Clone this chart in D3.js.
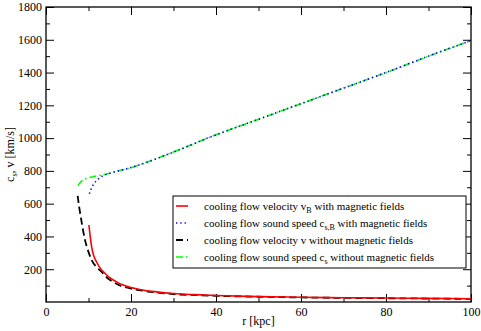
<!DOCTYPE html>
<html>
<head>
<meta charset="utf-8">
<script src="https://cdn.jsdelivr.net/npm/d3@7"></script>
<style>
  body { margin: 0; background: #fff; }
  svg text { font-family: "Liberation Serif", "Times New Roman", Times, "DejaVu Serif", serif; }
</style>
</head>
<body>
<div id="chart"></div>
<script>
'use strict'

// cooling flow velocity v_B with magnetic fields (red, solid)
var r_vB = [10.1, 10.4, 10.75, 11.2, 11.9, 12.8, 13.9, 15.2, 16.6, 18, 20, 23, 26, 30, 35, 40, 50, 60, 70, 80, 90, 100]
var vB   = [470, 400, 335, 285, 244, 205, 174, 145, 123, 105, 88, 72, 62, 52, 45, 40, 33, 29, 26, 24, 22, 20]

// cooling flow sound speed c_s,B with magnetic fields (blue, dotted)
var r_csB = [10.2, 10.6, 11, 11.6, 12.3, 13, 14, 15, 17, 20, 25, 30, 40, 50, 60, 70, 80, 90, 100]
var csB   = [660, 688, 710, 732, 750, 764, 776, 786, 800, 820, 865, 915, 1020, 1115, 1210, 1305, 1400, 1500, 1595]

// cooling flow velocity v without magnetic fields (black, dashed)
var r_v = [7.45, 7.8, 8.2, 8.7, 9.2, 10, 10.75, 12, 13.1, 14.5, 15.8, 17.5, 19.8, 23, 26, 30.7, 35, 40, 50, 60, 70, 80, 90, 100]
var v   = [648, 580, 517, 440, 376, 305, 255, 210, 184, 145, 123, 100, 83, 68, 58, 47, 42, 38, 32, 28, 25, 23, 21, 19]

// cooling flow sound speed c_s without magnetic fields (green, dash-dot)
var r_cs = [7.5, 8, 8.6, 9.3, 10, 11, 12, 13.5, 15, 17, 20, 25, 30, 40, 50, 60, 70, 80, 90, 100]
var cs   = [710, 728, 742, 752, 758, 764, 769, 777, 785, 800, 820, 865, 915, 1020, 1115, 1210, 1305, 1400, 1500, 1595]

var x_ticks = [0, 20, 40, 60, 80, 100]
var y_ticks = [200, 400, 600, 800, 1000, 1200, 1400, 1600, 1800]

var series = [
  { name: 'vB',  r: r_vB,  y: vB,  color: '#ff0000', dash: null,    width: 1.6 },
  { name: 'csB', r: r_csB, y: csB, color: '#0000ff', dash: '1.3,3', width: 1.6 },
  { name: 'v',   r: r_v,   y: v,   color: '#000000', dash: '7,4',   width: 1.8 },
  { name: 'cs',  r: r_cs,  y: cs,  color: '#00ff00', dash: '7,3,1.5,3', width: 1.6 },
]

var FONT = '"Liberation Serif", "Times New Roman", Times, "DejaVu Serif", serif'

var W = 481, H = 331
var margin = { top: 7, right: 10, bottom: 29, left: 46 }
var width = W - margin.left - margin.right
var height = H - margin.top - margin.bottom

var svg = d3.select('#chart').append('svg')
  .attr('width', W).attr('height', H)
  .style('font-family', FONT)

var g = svg.append('g')
  .attr('transform', 'translate(' + margin.left + ',' + margin.top + ')')

var sx = d3.scaleLinear().domain([0, 100]).range([0, width])
var sy = d3.scaleLinear().domain([0, 1800]).range([height, 0])

var fmt = d3.format('d')
var x_minor = d3.range(10, 100, 20)
var y_minor = d3.range(100, 1800, 200)

// ticks pointing inwards, mirrored on all four sides
g.append('g').attr('class', 'x axis')
  .attr('transform', 'translate(0,' + height + ')')
  .call( d3.axisBottom(sx).tickValues(x_ticks).tickFormat(fmt).tickSizeInner(-8).tickSizeOuter(0).tickPadding(5))
g.append('g').attr('class', 'x minor')
  .attr('transform', 'translate(0,' + height + ')')
  .call( d3.axisBottom(sx).tickValues(x_minor).tickSizeInner(-4).tickSizeOuter(0).tickFormat(''))
g.append('g').attr('class', 'x top')
  .call( d3.axisTop(sx).tickValues(x_ticks).tickSizeInner(-8).tickSizeOuter(0).tickFormat(''))
g.append('g').attr('class', 'x topminor')
  .call( d3.axisTop(sx).tickValues(x_minor).tickSizeInner(-4).tickSizeOuter(0).tickFormat(''))

g.append('g').attr('class', 'y axis')
  .call( d3.axisLeft(sy).tickValues(y_ticks).tickFormat(fmt).tickSizeInner(-8).tickSizeOuter(0).tickPadding(4))
g.append('g').attr('class', 'y minor')
  .call( d3.axisLeft(sy).tickValues(y_minor).tickSizeInner(-4).tickSizeOuter(0).tickFormat(''))
g.append('g').attr('class', 'y right')
  .attr('transform', 'translate(' + width + ',0)')
  .call( d3.axisRight(sy).tickValues(y_ticks).tickSizeInner(-8).tickSizeOuter(0).tickFormat(''))
g.append('g').attr('class', 'y rightminor')
  .attr('transform', 'translate(' + width + ',0)')
  .call( d3.axisRight(sy).tickValues(y_minor).tickSizeInner(-4).tickSizeOuter(0).tickFormat(''))

g.selectAll('.domain').remove()
g.selectAll('g.x, g.y').attr('font-family', null).attr('font-size', null)
g.selectAll('.tick line').attr('stroke', '#000').attr('stroke-width', 1)
g.selectAll('.tick text').attr('font-size', 12).attr('fill', '#000')

// frame
g.append('rect')
  .attr('x', 0).attr('y', 0).attr('width', width).attr('height', height)
  .attr('fill', 'none').attr('stroke', '#000').attr('stroke-width', 1.3)

// curves
var line = d3.line()
  .x(function(d) { return sx( d[0]) })
  .y(function(d) { return sy( d[1]) })
  .curve( d3.curveMonotoneX)

var draw_order = ['v', 'vB', 'cs', 'csB']
draw_order.forEach( function(nm) {
  var s = series.find( function(t) { return t.name == nm })
  var pts = s.r.map( function(r, i) { return [r, s.y[i]] })
  g.append('path')
    .datum(pts)
    .attr('fill', 'none')
    .attr('stroke', s.color)
    .attr('stroke-width', s.width)
    .attr('stroke-dasharray', s.dash)
    .attr('d', line)
})

// legend
var leg = g.append('g').attr('transform', 'translate(' + (173 - margin.left) + ',' + (196 - margin.top) + ')')
leg.append('rect')
  .attr('x', 0).attr('y', 0).attr('width', 293).attr('height', 72)
  .attr('fill', '#fff').attr('stroke', '#000').attr('stroke-width', 1)

var leg_text = [
  [['cooling flow velocity v', ''], ['B', 'sub'], [' with magnetic fields', '']],
  [['cooling flow sound speed c', ''], ['s,B', 'sub'], [' with magnetic fields', '']],
  [['cooling flow velocity v without magnetic fields', '']],
  [['cooling flow sound speed c', ''], ['s', 'sub'], [' without magnetic fields', '']],
]

series.forEach( function(s, i) {
  var yy = 10 + i * 17
  leg.append('line')
    .attr('x1', 3).attr('x2', 15).attr('y1', yy).attr('y2', yy)
    .attr('stroke', s.color).attr('stroke-width', s.width)
    .attr('stroke-dasharray', s.dash)
  var t = leg.append('text')
    .attr('x', 31).attr('y', yy + 4)
    .attr('font-size', 11)
  leg_text[i].forEach( function(p, k) {
    var ts = t.append('tspan').text( p[0])
    if (p[1] == 'sub') ts.attr('font-size', 8).attr('dy', 3)
    else if (k > 0) ts.attr('dy', -3)
  })
})

// axis titles
svg.append('text')
  .attr('x', margin.left + width / 2).attr('y', 325)
  .attr('text-anchor', 'middle').attr('font-size', 12)
  .text('r  [kpc]')

var yt = svg.append('text')
  .attr('transform', 'translate(14,' + (margin.top + height / 2) + ') rotate(-90)')
  .attr('text-anchor', 'middle').attr('font-size', 12)
yt.append('tspan').text('c')
yt.append('tspan').text('s').attr('font-size', 8).attr('dy', 3)
yt.append('tspan').text(',  v  [km/s]').attr('dy', -3)
</script>
</body>
</html>
